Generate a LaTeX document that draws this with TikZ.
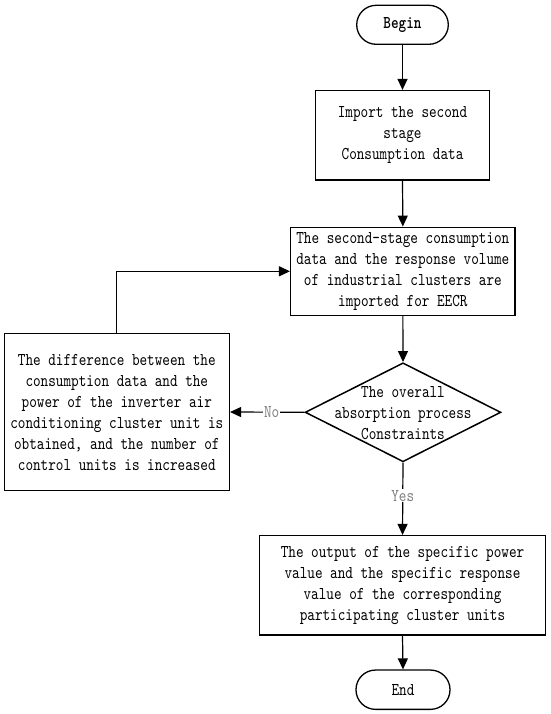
\documentclass[tikz,border=0pt]{standalone}
\usepackage{fontspec}
\newfontfamily\diagfont{lmmono10-regular.otf}[BoldFont=lmmonolt10-bold.otf, FakeStretch=0.805]
\usetikzlibrary{shapes.geometric,arrows.meta}
\begin{document}
\begin{tikzpicture}[x=1pt,y=-1pt,
  every node/.style={font=\diagfont\fontsize{18}{21}\selectfont, inner sep=0pt},
  procbox/.style={draw, line width=1.5pt, align=center},
  term/.style={draw, line width=1.3pt, rounded corners=19.5pt, align=center},
  decision/.style={draw, diamond, line width=1.5pt},
  conn/.style={line width=1.2pt, -{Triangle[length=11pt,width=10pt]}},
  lab/.style={fill=white, text=gray, inner sep=1pt}]
\useasboundingbox (0,0) rectangle (550,714);
\node[term, minimum width=91.6pt, minimum height=39pt, font=\diagfont\bfseries\fontsize{18}{21}\selectfont] (begin) at (402.5,24.8) {Begin};
\node[procbox, minimum width=173.6pt, minimum height=89.3pt] (imp) at (402.5,135.3) {Import the second\\stage\\Consumption data};
\node[procbox, minimum width=224.3pt, minimum height=88pt] (eecr) at (402.85,271.3) {The second-stage consumption\\data and the response volume\\of industrial clusters are\\imported for EECR};
\node[decision, minimum width=195.7pt, minimum height=99pt] (dec) at (403,412.3) {};
\node[align=center] (dectext) at (403,413) {The overall\\absorption process\\Constraints};
\node[procbox, minimum width=225pt, minimum height=157.4pt] (diff) at (116.8,412) {The difference between the\\consumption data and the\\power of the inverter air\\conditioning cluster unit is\\obtained, and the number of\\control units is increased};
\node[procbox, minimum width=286.4pt, minimum height=99.3pt] (out) at (402.5,585.3) {The output of the specific power\\value and the specific response\\value of the corresponding\\participating cluster units};
\node[term, minimum width=94pt, minimum height=39.3pt] (end) at (403,689.7) {End};
\draw[conn] (begin.south) -- (imp.north);
\draw[conn] (imp.south) -- (eecr.north);
\draw[conn] (eecr.south) -- (dec.north);
\draw[conn] (dec.west) -- node[lab, pos=0.44] {No} (diff.east);
\draw[conn] (diff.north) |- (eecr.west);
\draw[conn] (dec.south) -- node[lab, pos=0.46] {Yes} (out.north);
\draw[conn] (out.south) -- (end.north);
\end{tikzpicture}
\end{document}
